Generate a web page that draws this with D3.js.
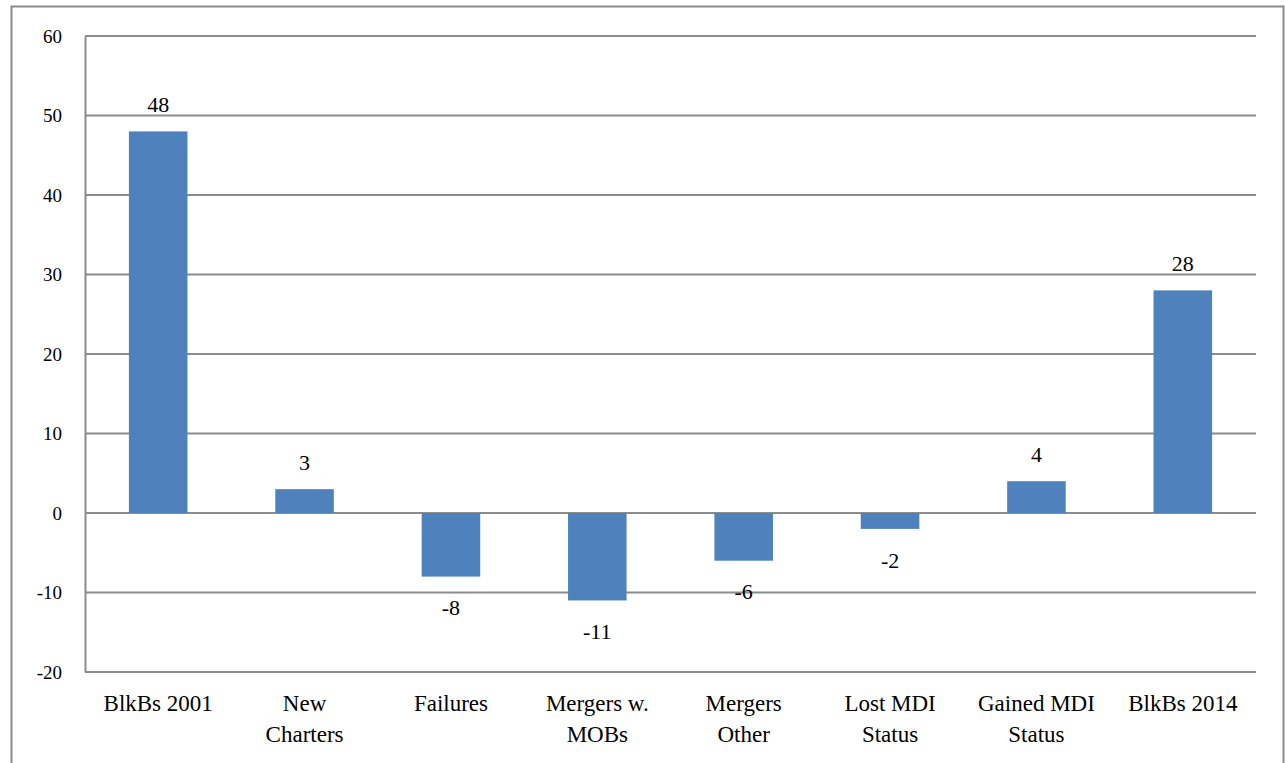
<!DOCTYPE html>
<html><head><meta charset="utf-8">
<script src="https://cdn.jsdelivr.net/npm/d3@7"></script>
<style>body{margin:0;background:#fff}svg{display:block}
svg text{font-family:"Liberation Serif","Times New Roman","DejaVu Serif","Noto Serif",serif;}</style>
</head><body>
<svg id="c" width="1285" height="763"></svg>
<script>
const categories = [["BlkBs 2001"],["New","Charters"],["Failures"],["Mergers w.","MOBs"],["Mergers","Other"],["Lost MDI","Status"],["Gained MDI","Status"],["BlkBs 2014"]];
const values = [48, 3, -8, -11, -6, -2, 4, 28];
const yTicks = [-20, -10, 0, 10, 20, 30, 40, 50, 60];
const tickLabels = ["-20","-10","0","10","20","30","40","50","60"];

const svg = d3.select("#c");
const L = 85, R = 1256, T = 36, B = 672;

svg.append("rect").attr("x",11.5).attr("y",6.5).attr("width",1272).attr("height",800)
  .attr("fill","none").attr("stroke","#8a8a8a").attr("stroke-width",2);

const x = d3.scaleBand().domain(d3.range(categories.length)).range([L, R]).paddingInner(0.6).paddingOuter(0.3);
const y = d3.scaleLinear().domain([-20, 60]).range([B, T]);

svg.append("g").selectAll("line").data(yTicks).join("line")
  .attr("x1", L).attr("x2", R).attr("y1", d => y(d)).attr("y2", d => y(d))
  .attr("stroke", "#8c8c8c").attr("stroke-width", 2);

const ya = d3.axisLeft(y).tickValues(yTicks).tickFormat((d,i)=>tickLabels[i]).tickSize(0).tickPadding(23);
const yg = svg.append("g").attr("transform",`translate(${L},0)`).call(ya);
yg.attr("font-family",null);
yg.select(".domain").attr("stroke","#8c8c8c").attr("stroke-width",2);
yg.selectAll("text").attr("font-size",19).attr("fill","#000");

svg.append("g").selectAll("rect").data(values).join("rect")
  .attr("x",(d,i)=>x(i)).attr("width",x.bandwidth())
  .attr("y",d=>y(Math.max(0,d))).attr("height",d=>Math.abs(y(d)-y(0)))
  .attr("fill","#4f81bd");

svg.append("g").selectAll("text").data(values).join("text")
  .attr("x",(d,i)=>x(i)+x.bandwidth()/2)
  .attr("y",d=> d>=0 ? y(d)-27 : y(d)+31)
  .attr("dy","0.35em").attr("text-anchor","middle")
  .attr("font-size",22).attr("fill","#000")
  .text(d=>d);

const cg = svg.append("g").selectAll("text").data(categories).join("text")
  .attr("text-anchor","middle").attr("font-size",23).attr("fill","#000")
  .attr("x",(d,i)=>x(i)+x.bandwidth()/2).attr("y",711);
cg.selectAll("tspan").data(d=>d).join("tspan")
  .attr("x",function(){return this.parentNode.getAttribute("x");})
  .attr("dy",(d,i)=> i===0 ? 0 : 31).text(d=>d);
</script>
</body></html>
